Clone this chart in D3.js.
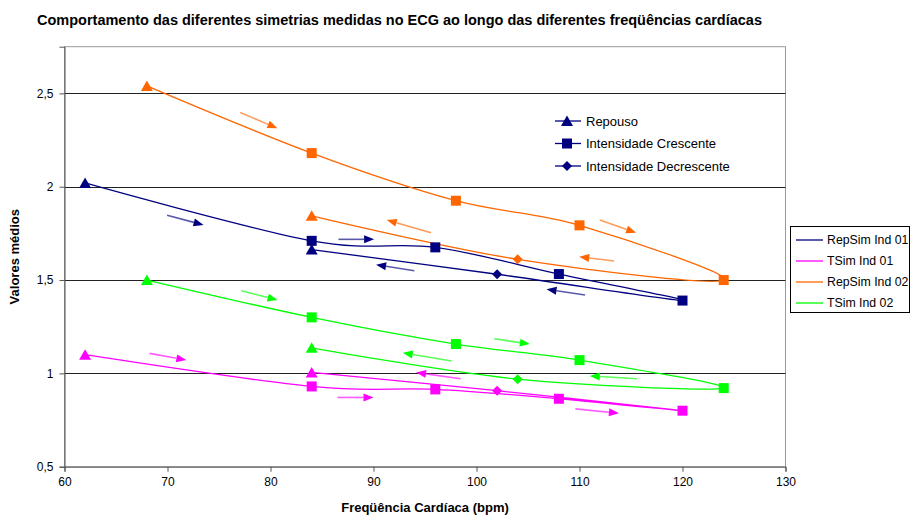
<!DOCTYPE html>
<html>
<head>
<meta charset="utf-8">
<script src="https://cdn.jsdelivr.net/npm/d3@7"></script>
<style>
  html, body { margin: 0; padding: 0; background: #fff; }
  svg { display: block; font-family: "Liberation Sans", Arial, sans-serif; }
</style>
</head>
<body>
<svg id="chart" width="911" height="516"></svg>
<script>
// Heart-rate (bpm) at each measurement, in the order the protocol was run:
// rest, increasing intensity (x4), decreasing intensity, rest again.
const bpmInd01 = [62, 84, 96, 108, 120, 102, 84];
const bpmInd02 = [68, 84, 98, 110, 124, 104, 84];
const phases = ["Repouso", "Intensidade Crescente", "Intensidade Crescente",
                "Intensidade Crescente", "Intensidade Crescente",
                "Intensidade Decrescente", "Repouso"];

// Mean symmetry values
const repSimInd01 = [2.02, 1.71, 1.675, 1.532, 1.39, 1.531, 1.663];
const tSimInd01   = [1.10, 0.93, 0.914, 0.864, 0.80, 0.907, 1.005];
const repSimInd02 = [2.54, 2.18, 1.925, 1.793, 1.50, 1.611, 1.844];
const tSimInd02   = [1.50, 1.30, 1.157, 1.071, 0.921, 0.969, 1.137];

const seriesNames  = ["RepSim Ind 01", "TSim Ind 01", "RepSim Ind 02", "TSim Ind 02"];
const seriesColors = ["#000080", "#FF00FF", "#FF6600", "#00FF00"];

// Direction arrows [x1, y1, x2 (tip), y2] in data units, one list per series
const arrowsRep01 = [[69.96, 1.847, 73.5, 1.795], [86.6, 1.718, 90.06, 1.718],
                     [110.54, 1.42, 106.8, 1.45], [93.96, 1.55, 90.25, 1.582]];
const arrowsT01   = [[68.27, 1.107, 71.83, 1.071], [86.5, 0.871, 90.0, 0.871],
                     [109.6, 0.81, 113.83, 0.786], [98.46, 0.971, 94.13, 1.005]];
const arrowsRep02 = [[77.06, 2.397, 80.67, 2.313], [111.97, 1.822, 115.5, 1.753],
                     [113.36, 1.602, 109.97, 1.625], [95.58, 1.753, 91.29, 1.822]];
const arrowsT02   = [[77.16, 1.443, 80.68, 1.393], [101.72, 1.185, 105.18, 1.157],
                     [115.58, 0.971, 111.0, 0.986], [97.59, 1.066, 92.84, 1.11]];

const xTicks = [60, 70, 80, 90, 100, 110, 120, 130];
const yTicks = [0.5, 1, 1.5, 2, 2.5];

const titleText = "Comportamento das diferentes simetrias medidas no ECG ao longo das diferentes freqüências cardíacas";
const xLabel = "Freqüência Cardíaca (bpm)";
const yLabel = "Valores médios";
const phaseLegend = ["Repouso", "Intensidade Crescente", "Intensidade Decrescente"];

const series = [
  { name: seriesNames[0], color: seriesColors[0], x: bpmInd01, y: repSimInd01, arrows: arrowsRep01 },
  { name: seriesNames[1], color: seriesColors[1], x: bpmInd01, y: tSimInd01,   arrows: arrowsT01 },
  { name: seriesNames[2], color: seriesColors[2], x: bpmInd02, y: repSimInd02, arrows: arrowsRep02 },
  { name: seriesNames[3], color: seriesColors[3], x: bpmInd02, y: tSimInd02,   arrows: arrowsT02 }
];

const svg = d3.select("#chart");
const plot = { left: 64.5, right: 785.5, top: 46.7, bottom: 466.7 };

const x = d3.scaleLinear().domain([60, 130]).range([plot.left, plot.right]);
const y = d3.scaleLinear().domain([0.5, 2.75]).range([plot.bottom, plot.top]);
const fmt = d => String(d).replace(".", ",");

// plot area frame
svg.append("rect")
  .attr("x", plot.left).attr("y", plot.top)
  .attr("width", plot.right - plot.left).attr("height", plot.bottom - plot.top)
  .attr("fill", "#fff").attr("stroke", "#9a9a9a").attr("stroke-width", 1);

// horizontal gridlines
svg.append("g").selectAll("line").data(yTicks.slice(1)).join("line")
  .attr("x1", plot.left).attr("x2", plot.right)
  .attr("y1", d => Math.round(y(d)) + 0.5).attr("y2", d => Math.round(y(d)) + 0.5)
  .attr("stroke", "#222").attr("stroke-width", 1);

// axes
const yAxis = svg.append("g")
  .attr("transform", `translate(${plot.left},0)`)
  .call(d3.axisLeft(y).tickValues(yTicks).tickFormat(fmt).tickSize(5).tickPadding(6));
const xAxis = svg.append("g")
  .attr("transform", `translate(0,${plot.bottom})`)
  .call(d3.axisBottom(x).tickValues(xTicks).tickFormat(d3.format("d")).tickSize(5).tickPadding(6));
[yAxis, xAxis].forEach(g => {
  g.select(".domain").attr("stroke", "#555");
  g.selectAll(".tick line").attr("stroke", "#555");
  g.selectAll("text").attr("font-size", 12).attr("fill", "#000")
    .attr("font-family", "'Liberation Sans', Arial, sans-serif");
});

// smoothed series lines
const line = d3.line().curve(d3.curveCardinal.tension(0));
series.forEach(s => {
  const pts = s.x.map((bx, i) => [x(bx), y(s.y[i])]);
  svg.append("path").attr("d", line(pts))
    .attr("fill", "none").attr("stroke", s.color).attr("stroke-width", 1.3);
});

// direction arrows
series.forEach(s => {
  const g = svg.append("g");
  s.arrows.forEach(a => {
    const x1 = x(a[0]), y1 = y(a[1]), x2 = x(a[2]), y2 = y(a[3]);
    const ang = Math.atan2(y2 - y1, x2 - x1);
    const len = 10, half = 4;
    const bx = x2 - len * Math.cos(ang), by = y2 - len * Math.sin(ang);
    g.append("line").attr("x1", x1).attr("y1", y1).attr("x2", bx).attr("y2", by)
      .attr("stroke", s.color).attr("stroke-width", 1.6).attr("stroke-opacity", 0.65);
    const p = [[x2, y2],
               [bx + half * Math.sin(ang), by - half * Math.cos(ang)],
               [bx - half * Math.sin(ang), by + half * Math.cos(ang)]];
    g.append("path").attr("d", "M" + p.join("L") + "Z").attr("fill", s.color);
  });
});

// markers by phase
function marker(g, phase, cx, cy, color) {
  if (phase === "Repouso") {
    g.append("path").attr("d", `M${cx},${cy - 5.5}L${cx + 6},${cy + 5}L${cx - 6},${cy + 5}Z`).attr("fill", color);
  } else if (phase === "Intensidade Crescente") {
    g.append("rect").attr("x", cx - 5).attr("y", cy - 5).attr("width", 10).attr("height", 10).attr("fill", color);
  } else {
    g.append("path").attr("d", `M${cx},${cy - 5}L${cx + 5},${cy}L${cx},${cy + 5}L${cx - 5},${cy}Z`).attr("fill", color);
  }
}
series.forEach(s => {
  const g = svg.append("g");
  s.x.forEach((bx, i) => marker(g, phases[i], x(bx), y(s.y[i]), s.color));
});

// phase legend (inside the plot)
const pl = svg.append("g").attr("transform", "translate(555,0)");
phaseLegend.forEach((p, i) => {
  const cy = 121 + i * 22.5;
  pl.append("line").attr("x1", 0).attr("x2", 26).attr("y1", cy).attr("y2", cy)
    .attr("stroke", seriesColors[0]).attr("stroke-width", 1.3);
  marker(pl, p, 12, cy, seriesColors[0]);
  pl.append("text").attr("x", 31).attr("y", cy).attr("dy", "0.35em")
    .attr("font-size", 13).text(p);
});

// series legend (right)
const sl = svg.append("g");
sl.append("rect").attr("x", 790.5).attr("y", 226.5).attr("width", 119).attr("height", 86)
  .attr("fill", "#fff").attr("stroke", "#000").attr("stroke-width", 1);
series.forEach((s, i) => {
  const cy = 240 + i * 21;
  sl.append("line").attr("x1", 796).attr("x2", 823).attr("y1", cy).attr("y2", cy)
    .attr("stroke", s.color).attr("stroke-width", 1.3);
  sl.append("text").attr("x", 827).attr("y", cy).attr("dy", "0.35em")
    .attr("font-size", 12.3).text(s.name);
});

// titles
svg.append("text").attr("x", 37).attr("y", 25)
  .attr("font-size", 14).attr("font-weight", "bold")
  .attr("textLength", 725).attr("lengthAdjust", "spacingAndGlyphs").text(titleText);
svg.append("text").attr("x", (plot.left + plot.right) / 2).attr("y", 512)
  .attr("text-anchor", "middle").attr("font-size", 13).attr("font-weight", "bold").text(xLabel);
svg.append("text").attr("transform", `translate(19,${(plot.top + plot.bottom) / 2}) rotate(-90)`)
  .attr("text-anchor", "middle").attr("font-size", 13).attr("font-weight", "bold").text(yLabel);
</script>
</body>
</html>
